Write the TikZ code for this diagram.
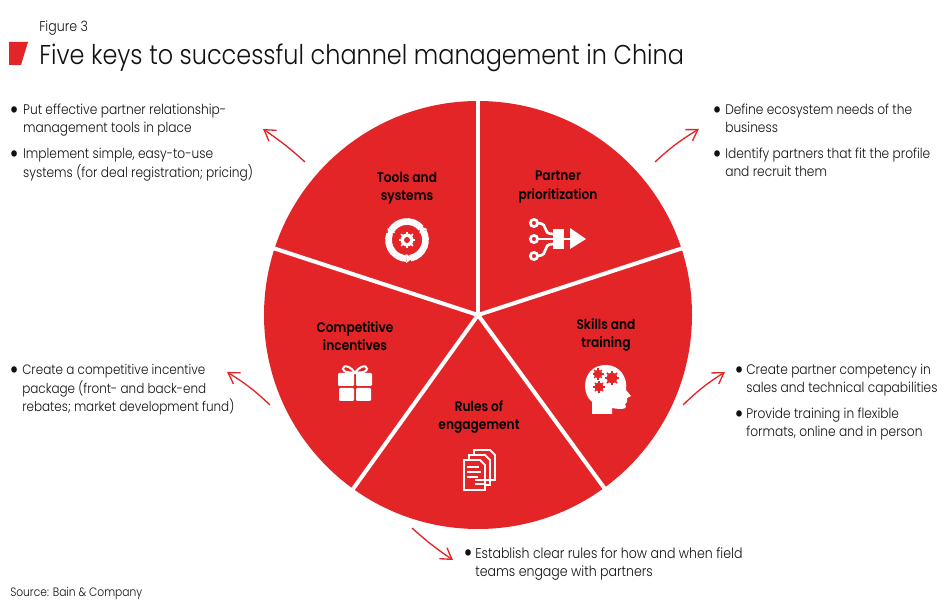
\documentclass[tikz,border=0pt]{standalone}
\usepackage{fontspec}
\setmainfont{Poppins Light}[BoldFont=Poppins SemiBold,FakeStretch=0.88]
\usetikzlibrary{arrows.meta,calc,bending}
\definecolor{bainred}{HTML}{E42528}
\definecolor{ink}{HTML}{111111}
\newcommand{\bulletblock}[2]{\begin{tabular}[t]{@{}p{#1}@{}l@{}}\makebox[0pt][l]{\hspace{-0.6pt}\raisebox{-1.6pt}{\fontsize{17}{0}\selectfont\bfseries •}}&\begin{tabular}[t]{@{}l@{}}#2\end{tabular}\end{tabular}}
\tikzset{
  body/.style={anchor=base west,inner sep=0pt,text=ink,font=\fontsize{10.4}{13.5}\selectfont},
  keylabel/.style={align=center,inner sep=0pt,text=black,font=\fontsize{10.4}{13.8}\selectfont\bfseries},
  divider/.style={white,line width=3pt},
  callout/.style={bainred,line width=1pt,-{Straight Barb[length=8pt,width=10pt,bend]}}
}
\newcommand{\gearicon}[4]{%
  \fill[#4] (#1,#2) circle[radius=#3];
  \foreach \a in {0,45,...,315}{\draw[#4,line width=0.26*#3*0.75pt] ($(#1,#2)+(\a:0.7*#3)$)--($(#1,#2)+(\a:1.28*#3)$);}
}
\begin{document}
\begin{tikzpicture}[x=0.75pt,y=-0.75pt]
\useasboundingbox (0,0) rectangle (950,609);
\fill[white] (0,0) rectangle (950,609);
% header
\node[body,font=\fontsize{10.7}{12}\selectfont] (fig) at (39,32) {Figure 3};
\fill[bainred] (9,42)--(28,42)--(21,65)--(9,65)--cycle;
\node[body,font=\fontsize{20.4}{24}\selectfont] (title) at (39,65) {Five keys to successful channel management in China};
\node[body,font=\fontsize{9.1}{11}\selectfont] (src) at (10,596) {Source: Bain \& Company};
% pie
\coordinate (hub) at (478,315);
\fill[bainred] (hub) circle[radius=214];
\coordinate (d1) at (478,98);
\coordinate (d2) at (683,248);
\coordinate (d3) at (605,489);
\coordinate (d4) at (353,489);
\coordinate (d5) at (273,248);
\foreach \d in {d1,d2,d3,d4,d5}{\draw[divider] (hub)--(\d);}
% labels
\node[keylabel] (k1) at (407,188) {Tools and\\systems};
\node[keylabel] (k2) at (558,187) {Partner\\prioritization};
\node[keylabel] (k3) at (606,335) {Skills and\\training};
\node[keylabel] (k4) at (355,336) {Competitive\\incentives};
\node[keylabel] (k5) at (479,417) {Rules of\\engagement};
% tools icon
\begin{scope}[shift={(407,240)}]
  \foreach \s/\e in {80/-28,-40/-148,-160/-268}{
    \draw[white,line width=5pt] (\s:18.5) arc[start angle=\s,end angle=\e,radius=18.5];
    \fill[white] (\e:23)--(\e:14)--($(\e:18.5)+(\e-90:6)$)--cycle;
  }
\end{scope}
\gearicon{407}{240}{6.5}{white}
\fill[bainred] (407,240) circle[radius=3];
% partner icon
\foreach \y in {223,239,256}{\draw[white,line width=2pt,fill=bainred] (534,\y) circle[radius=3.6];}
\draw[white,line width=2pt] (538,223) .. controls (550,224) and (541,234) .. (553,234);
\draw[white,line width=2pt] (538,239)--(553,239);
\draw[white,line width=2pt] (538,256) .. controls (550,255) and (541,244) .. (553,244);
\fill[white] (553,229) rectangle (564,249);
\draw[white,line width=1.6pt] (564,239)--(571,239);
\fill[white] (570,228)--(586,239)--(570,249)--cycle;
% head icon
\fill[white] (606,365) .. controls (620,365) and (628,378) .. (626,390)
  -- (631,396) -- (627,398) -- (627,402) -- (625,404) -- (626,407) .. controls (625,410) and (617,409) .. (612,408)
  -- (612,414) -- (592,414) -- (592,402) .. controls (580,392) and (583,365) .. (606,365) -- cycle;
\gearicon{598}{374}{4.3}{bainred}
\gearicon{612}{378}{5.6}{bainred}
\gearicon{599}{387}{4.6}{bainred}
% gift icon
\fill[white,rounded corners=0.8pt] (338,373) rectangle (354,386);
\fill[white,rounded corners=0.8pt] (356,373) rectangle (372,386);
\fill[white,rounded corners=0.8pt] (339,388) rectangle (354,401);
\fill[white,rounded corners=0.8pt] (356,388) rectangle (371,401);
\draw[white,line width=1.5pt] (355,373) .. controls (347,361) and (338,368) .. (346,372) -- (355,373)
  .. controls (363,361) and (372,368) .. (364,372) -- cycle;
% documents icon
\foreach \dx/\dy in {10/-10,5/-5,0/0}{
  \draw[white,line width=1.4pt,fill=bainred,shift={(\dx,\dy)}] (464,460) -- (480,460) -- (485,465) -- (485,490) -- (464,490) -- cycle;
}
\foreach \y/\xe in {467/479,472/481,477/478}{\draw[white,line width=0.9pt] (467,\y)--(\xe,\y);}
\draw[white,line width=0.9pt] (475,480)--(490,480);
\draw[white,line width=0.9pt] (475,484)--(486,484);
% bullets
\node[body] (t1) at (10,115) {\bulletblock{9.7pt}{Put effective partner relationship-\\management tools in place}};
\node[body] (t2) at (10,159) {\bulletblock{9.7pt}{Implement simple, easy-to-use\\systems (for deal registration; pricing)}};
\node[body] (t3) at (713,115) {\bulletblock{9pt}{Define ecosystem needs of the\\business}};
\node[body] (t4) at (713,159) {\bulletblock{9pt}{Identify partners that fit the profile\\and recruit them}};
\node[body] (t5) at (735,375) {\bulletblock{8.3pt}{Create partner competency in\\sales and technical capabilities}};
\node[body] (t6) at (735,419) {\bulletblock{8.3pt}{Provide training in flexible\\formats, online and in person}};
\node[body,font=\fontsize{10.2}{13.5}\selectfont] (t7) at (10,375) {\bulletblock{9pt}{Create a competitive incentive\\package (front- and back-end\\rebates; market development fund)}};
\node[body,font=\fontsize{10.7}{13.5}\selectfont] (t8) at (464,558) {\bulletblock{8.3pt}{Establish clear rules for how and when field\\teams engage with partners}};
% callouts
\coordinate (a1s) at (305,162); \coordinate (a1e) at (263,129);
\coordinate (a2s) at (655,162); \coordinate (a2e) at (699,129);
\coordinate (a3s) at (683,405); \coordinate (a3e) at (725,372);
\coordinate (a4s) at (270,405); \coordinate (a4e) at (227,372);
\coordinate (a5s) at (412,528); \coordinate (a5e) at (453,560);
\draw[callout] (a1s) to[bend right=4] (a1e);
\draw[callout] (a2s) to[bend left=6] (a2e);
\draw[callout] (a3s) to[bend left=6] (a3e);
\draw[callout] (a4s) to[bend right=6] (a4e);
\draw[callout] (a5s) to[bend left=-4] (a5e);
\end{tikzpicture}
\end{document}
